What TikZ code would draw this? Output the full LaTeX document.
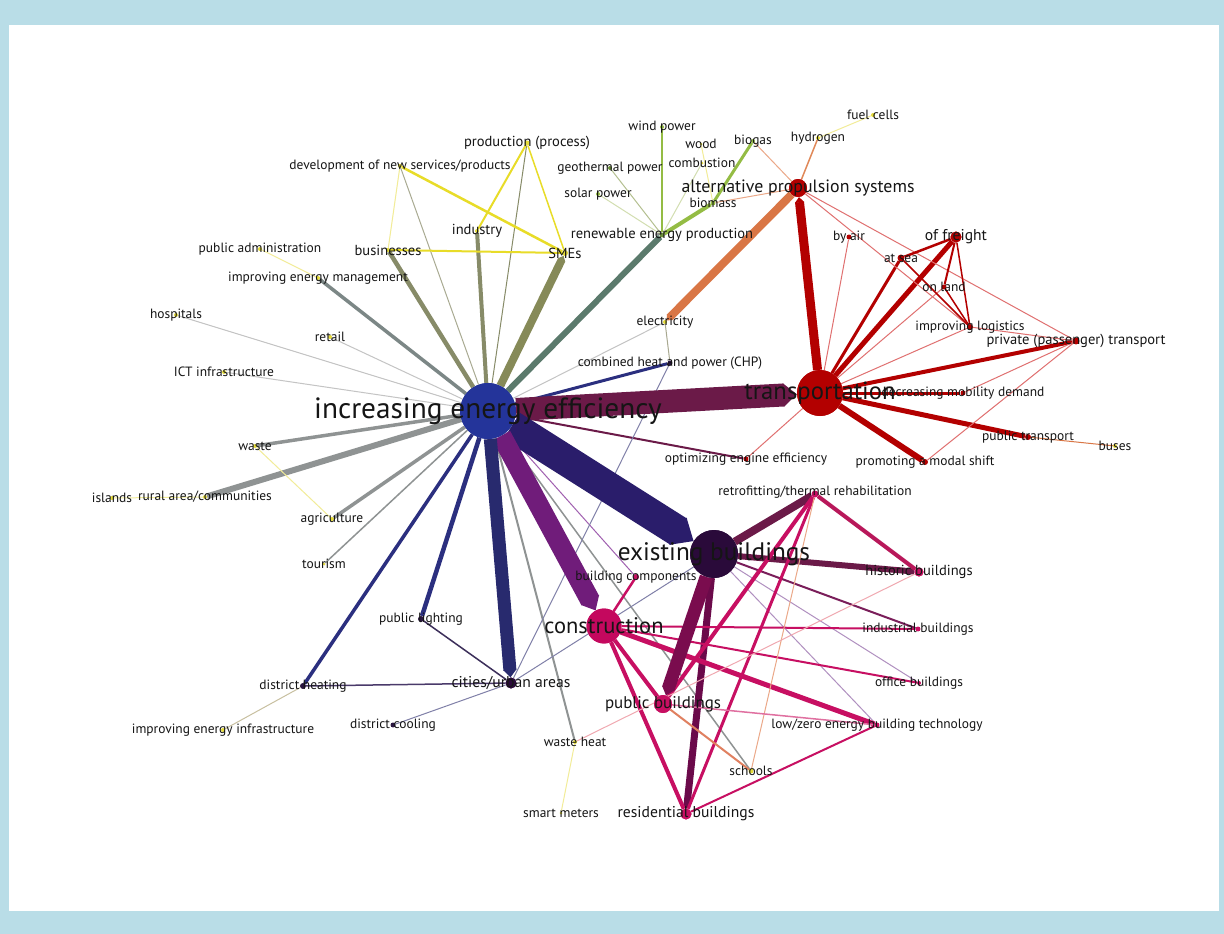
\documentclass[tikz,border=0pt]{standalone}
\usepackage{fontspec}
\setmainfont{PT Sans}
\usetikzlibrary{arrows.meta,calc}

% palette
\definecolor{bgblue}{HTML}{B9DDE7}
\definecolor{ieeblue}{HTML}{24349A}
\definecolor{trred}{HTML}{B30000}
\definecolor{ebdark}{HTML}{2A0A3A}
\definecolor{conmag}{HTML}{C4085E}
\definecolor{maroonx}{HTML}{6B1A48}
\definecolor{indigox}{HTML}{2A1D6B}
\definecolor{purpx}{HTML}{701C7A}
\definecolor{navyx}{HTML}{282A6E}
\definecolor{navyy}{HTML}{2B2F7F}
\definecolor{grayx}{HTML}{8F9393}
\definecolor{lgrayx}{HTML}{C4C4C4}
\definecolor{olivex}{HTML}{878B68}
\definecolor{olivey}{HTML}{868A58}
\definecolor{oliveL}{HTML}{A9AA92}
\definecolor{slatex}{HTML}{7C8786}
\definecolor{tealx}{HTML}{5B7A6C}
\definecolor{leafy}{HTML}{E6DC3A}
\definecolor{ylwx}{HTML}{E8DC28}
\definecolor{ylwL}{HTML}{F2EC98}
\definecolor{greenx}{HTML}{94BC44}
\definecolor{greenL}{HTML}{B4C090}
\definecolor{greenLL}{HTML}{D2DEB0}
\definecolor{greendot}{HTML}{6B8F3A}
\definecolor{orangex}{HTML}{D97645}
\definecolor{orangey}{HTML}{E08858}
\definecolor{magx}{HTML}{C70F62}
\definecolor{magy}{HTML}{B8185A}
\definecolor{magL}{HTML}{E070A0}
\definecolor{darkmag}{HTML}{7A0C4E}
\definecolor{resmaroon}{HTML}{6B0A4A}
\definecolor{indmaroon}{HTML}{7A1E5A}
\definecolor{lredx}{HTML}{E07070}
\definecolor{salmonx}{HTML}{EBA888}
\definecolor{salmony}{HTML}{E08060}
\definecolor{pinkL}{HTML}{F0A8B0}
\definecolor{lpurpx}{HTML}{B090C0}
\definecolor{bcpurp}{HTML}{A060B0}
\definecolor{darkdot}{HTML}{2A1640}
\definecolor{cityline}{HTML}{8080A8}
\definecolor{citydark}{HTML}{3C2F5A}
\definecolor{citymid}{HTML}{4A3A6A}
\definecolor{beigex}{HTML}{C8C0A0}
\definecolor{elecline}{HTML}{A8A890}
\definecolor{textx}{HTML}{151515}

\tikzset{
  dot/.style={circle, inner sep=0pt, minimum size=#1},
  lab/.style={font=\fontsize{13.5}{15}\selectfont, inner sep=0pt, text=textx},
  labM/.style={lab, font=\fontsize{14.6}{16}\selectfont},
  labL/.style={lab, font=\fontsize{15.7}{17}\selectfont},
  tipped/.style={-{Triangle[length=0pt 0.6, width=0pt 1]}},
}

\begin{document}
\begin{tikzpicture}[x=1bp, y=-1bp, line cap=butt]
\useasboundingbox (0,0) rectangle (1224,934);
\fill[bgblue] (0,0) rectangle (1224,934);
\fill[white] (9,25) rectangle (1219,911);

% ---------- nodes (dots) ----------
% hubs
\node[dot=56, fill=ieeblue] (iee) at (488,411) {};
\node[dot=46, fill=trred] (tra) at (820,393) {};
\node[dot=48, fill=ebdark] (eb) at (714,554) {};
\node[dot=35, fill=conmag] (con) at (604,626) {};
\node[dot=18, fill=trred] (alt) at (798,188) {};
% transport cluster
\node[dot=11, fill=trred] (fre) at (956,237) {};
\node[dot=7, fill=trred] (pri) at (1076,341) {};
\node[dot=7, fill=trred] (sea) at (901,258) {};
\node[dot=5, fill=trred] (lan) at (944,287) {};
\node[dot=5, fill=trred] (air) at (849,237) {};
\node[dot=6, fill=trred] (log) at (970,327) {};
\node[dot=5, fill=trred] (dec) at (963,393) {};
\node[dot=6, fill=trred] (ptr) at (1028,437) {};
\node[dot=4, fill=leafy] (bus) at (1115,446) {};
\node[dot=6, fill=trred] (mod) at (925,462) {};
\node[dot=5, fill=trred] (opt) at (746,459) {};
% buildings cluster
\node[dot=18, fill=magx] (pub) at (663,704) {};
\node[dot=11, fill=magx] (res) at (686,814) {};
\node[dot=9, fill=magx] (his) at (919,572) {};
\node[dot=7, fill=magx] (ret) at (815,494) {};
\node[dot=5, fill=magx] (ind) at (918,629) {};
\node[dot=4, fill=magx] (off) at (919,683) {};
\node[dot=5, fill=magx] (low) at (877,725) {};
\node[dot=5, fill=leafy] (sch) at (751,771) {};
\node[dot=6, fill=magx] (bco) at (636,577) {};
\node[dot=4, fill=leafy] (wht) at (575,742) {};
\node[dot=3, fill=leafy] (sma) at (561,813) {};
% urban cluster
\node[dot=11, fill=ebdark] (cit) at (511,683) {};
\node[dot=6, fill=darkdot] (dhe) at (303,686) {};
\node[dot=4, fill=leafy] (iei) at (223,730) {};
\node[dot=5, fill=darkdot] (dco) at (393,725) {};
\node[dot=6, fill=darkdot] (pli) at (421,619) {};
\node[dot=5, fill=darkdot] (chp) at (670,363) {};
% left fan
\node[dot=3, fill=leafy] (tou) at (324,564) {};
\node[dot=4, fill=leafy] (agr) at (332,519) {};
\node[dot=4, fill=leafy] (rur) at (205,497) {};
\node[dot=4, fill=leafy] (isl) at (112,498) {};
\node[dot=4, fill=leafy] (was) at (255,446) {};
\node[dot=4, fill=leafy] (ict) at (224,372) {};
\node[dot=4, fill=leafy] (rtl) at (330,337) {};
\node[dot=4, fill=leafy] (hos) at (176,315) {};
\node[dot=4, fill=leafy] (iem) at (318,278) {};
\node[dot=4, fill=leafy] (pad) at (260,249) {};
\node[dot=4, fill=leafy] (bsn) at (388,250) {};
\node[dot=4, fill=leafy] (inu) at (477,231) {};
\node[dot=6, fill=leafy] (sme) at (565,253) {};
\node[dot=4, fill=leafy] (dev) at (400,166) {};
\node[dot=5, fill=leafy] (pro) at (527,143) {};
% energy sources
\node[dot=5, fill=greendot] (ren) at (662,235) {};
\node[dot=5, fill=greenx] (bio) at (713,203) {};
\node[dot=4, fill=greenx] (bga) at (753,141) {};
\node[dot=3, fill=leafy] (woo) at (701,144) {};
\node[dot=3, fill=leafy] (com) at (702,163) {};
\node[dot=4, fill=greenx] (win) at (662,127) {};
\node[dot=4, fill=greendot] (geo) at (610,168) {};
\node[dot=4, fill=greenx] (sol) at (598,194) {};
\node[dot=4, fill=leafy] (hyd) at (818,138) {};
\node[dot=4, fill=leafy] (fue) at (873,115) {};
\node[dot=4, fill=leafy] (ele) at (665,322) {};

% ---------- connectors ----------
% thin and medium links
\foreach \a/\b/\w/\c in {
  iee/pli/4.5/navyy, iee/dhe/3.5/navyy, iee/chp/3/navyy,
  iee/tou/1.5/grayx, iee/agr/3.5/grayx, iee/rur/6/grayx, iee/was/3.5/grayx,
  iee/ict/1/lgrayx, iee/hos/1/lgrayx, iee/rtl/1/lgrayx, iee/ele/1/lgrayx,
  iee/iem/3.5/slatex, iee/bsn/4.5/olivex, iee/inu/4/olivex,
  iee/dev/1/oliveL, iee/pro/1/olivex, iee/ren/6/tealx,
  iee/opt/2/maroonx, iee/wht/2/grayx, iee/sch/1.5/grayx, iee/bco/1/bcpurp,
  tra/fre/5/trred, tra/sea/3/trred, tra/air/1/lredx, tra/lan/1/lredx,
  tra/log/1/lredx, tra/pri/4/trred, tra/dec/3/trred, tra/ptr/5/trred,
  tra/mod/6/trred, tra/opt/1/lredx,
  alt/bio/1/salmonx, alt/bga/1/salmonx, alt/hyd/1.5/orangey,
  alt/pri/1/lredx, alt/log/1/lredx,
  fre/sea/2.5/trred, fre/lan/2/trred, fre/log/1.5/trred,
  sea/log/1.5/trred, lan/log/1.5/trred,
  log/pri/1/lredx, pri/dec/1/lredx, pri/mod/1/lredx,
  ptr/bus/1/orangex, hyd/fue/1/ylwL,
  ren/bio/4/greenx, bio/bga/3/greenx, ren/win/2/greenx,
  ren/geo/1/greenL, ren/sol/1/greenLL, woo/bio/1/ylwL, com/ren/1/greenLL,
  pro/inu/2/ylwx, pro/sme/1.5/ylwx, dev/sme/2.5/ylwx, dev/bsn/1/ylwL,
  bsn/sme/2/ylwx, pad/iem/1/ylwL, was/agr/1/ylwL, rur/isl/1/ylwL,
  dhe/iei/1/beigex, wht/sma/1/ylwL,
  ele/chp/1/elecline, chp/cit/1/cityline,
  cit/pli/1.5/citydark, cit/dhe/1.5/citymid, cit/dco/1/cityline, eb/cit/1/cityline,
  eb/ret/8/maroonx, eb/his/6/maroonx, eb/ind/2/indmaroon,
  eb/off/1/lpurpx, eb/low/1/lpurpx, eb/res/7/resmaroon,
  con/bco/2.5/magx, con/ind/2/magx, con/off/2/magx, con/low/5/magx,
  con/pub/4/magx, con/res/4/magx,
  ret/his/4/magy, ret/pub/4/magx, ret/res/3/magx, ret/sch/1/salmonx,
  pub/low/1.5/magL, pub/sch/2/salmony, res/low/2/magx, wht/his/1/pinkL}{
  \draw[line width=\w bp, draw=\c] (\a) -- (\b);
}
% heavy links with pointed ends
\draw[tipped, line width=23bp, draw=maroonx] (iee) -- (tra);
\draw[tipped, line width=31bp, draw=indigox] (iee) -- (eb);
\draw[tipped, line width=20bp, draw=purpx] (iee) -- (con);
\draw[tipped, line width=13bp, draw=navyx] (iee) -- (cit);
\draw[tipped, line width=8bp, draw=olivey] (iee) -- (sme);
\draw[tipped, line width=9bp, draw=trred] (tra) -- (alt);
\draw[tipped, line width=8bp, draw=orangex] (alt) -- (ele);
\draw[tipped, line width=13bp, draw=darkmag] (eb) -- (pub);

% hub discs over the connectors
\fill[ieeblue] (iee) circle (28);
\fill[trred] (tra) circle (23);
\fill[ebdark] (eb) circle (24);
\fill[conmag] (con) circle (17.5);
\fill[trred] (alt) circle (9);
\fill[magx] (pub) circle (9);
\fill[ebdark] (cit) circle (5.5);
\fill[magx] (res) circle (5.5);
\fill[trred] (fre) circle (5.5);
\fill[magx] (his) circle (4.5);

% ---------- labels ----------
\node[lab, font=\fontsize{29.4}{32}\selectfont] at (iee) {increasing energy efficiency};
\node[lab, font=\fontsize{24.8}{27}\selectfont] at (tra) {transportation};
\node[lab, font=\fontsize{25.4}{28}\selectfont] at (eb) {existing buildings};
\node[lab, font=\fontsize{22.6}{25}\selectfont] at (con) {construction};
\node[lab, font=\fontsize{17.9}{20}\selectfont] at (alt) {alternative propulsion systems};
\node[lab, font=\fontsize{17}{19}\selectfont] at (pub) {public buildings};
\node[labL] at (res) {residential buildings};
\node[labL] at (cit) {cities/urban areas};
\node[labL] at (fre) {of freight};
\node[labM] at (pri) {private (passenger) transport};
\node[labM] at (his) {historic buildings};
\node[labM] at (bsn) {businesses};
\node[labM] at (inu) {industry};
\node[labM] at (sme) {SMEs};
\node[labM] at (pro) {production (process)};
\node[labM] at (ren) {renewable energy production};
\node[lab] at (sea) {at sea};
\node[lab] at (lan) {on land};
\node[lab] at (air) {by air};
\node[lab] at (log) {improving logistics};
\node[lab] at (dec) {decreasing mobility demand};
\node[lab] at (ptr) {public transport};
\node[lab] at (bus) {buses};
\node[lab] at (mod) {promoting a modal shift};
\node[lab] at (opt) {optimizing engine efficiency};
\node[lab] at ($(ret)+(0,-2)$) {retrofitting/thermal rehabilitation};
\node[lab] at (ind) {industrial buildings};
\node[lab] at (off) {office buildings};
\node[lab] at (low) {low/zero energy building technology};
\node[lab] at (sch) {schools};
\node[lab] at (bco) {building components};
\node[lab] at (wht) {waste heat};
\node[lab] at (sma) {smart meters};
\node[lab] at (dhe) {district heating};
\node[lab] at (iei) {improving energy infrastructure};
\node[lab] at (dco) {district cooling};
\node[lab] at (pli) {public lighting};
\node[lab] at (chp) {combined heat and power (CHP)};
\node[lab] at (tou) {tourism};
\node[lab] at (agr) {agriculture};
\node[lab] at (rur) {rural area/communities};
\node[lab] at (isl) {islands};
\node[lab] at (was) {waste};
\node[lab] at (ict) {ICT infrastructure};
\node[lab] at (rtl) {retail};
\node[lab] at (hos) {hospitals};
\node[lab] at (iem) {improving energy management};
\node[lab] at (pad) {public administration};
\node[lab] at (dev) {development of new services/products};
\node[lab] at (bio) {biomass};
\node[lab] at (bga) {biogas};
\node[lab] at (woo) {wood};
\node[lab] at (com) {combustion};
\node[lab] at (win) {wind power};
\node[lab] at (geo) {geothermal power};
\node[lab] at (sol) {solar power};
\node[lab] at (hyd) {hydrogen};
\node[lab] at (fue) {fuel cells};
\node[lab] at (ele) {electricity};
\end{tikzpicture}
\end{document}
